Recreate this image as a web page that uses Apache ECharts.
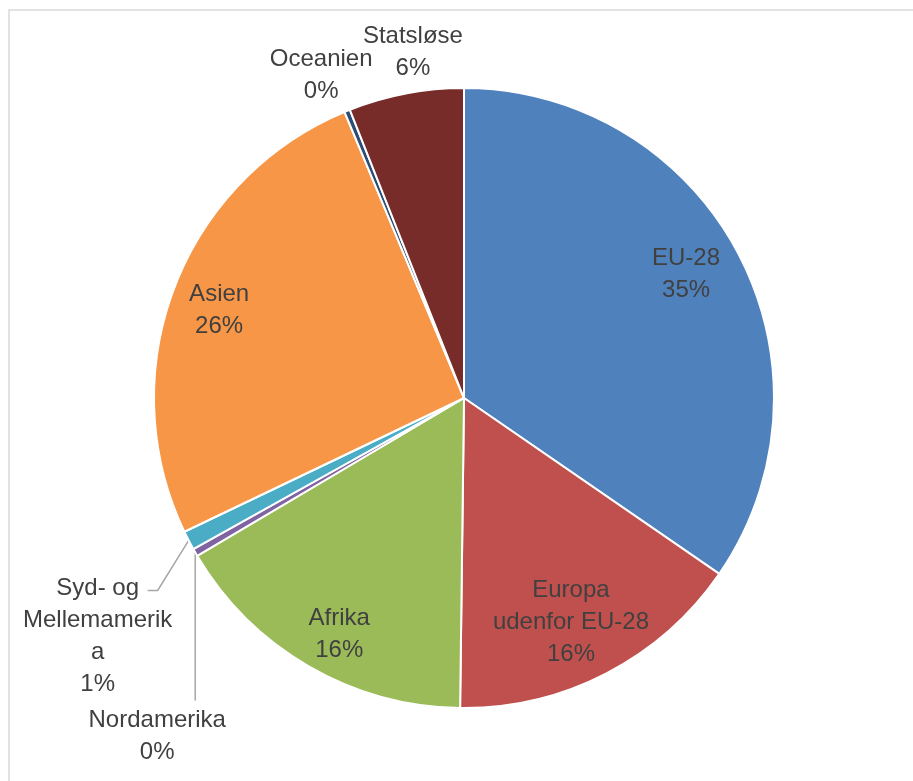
<!DOCTYPE html>
<html>
<head>
<meta charset="utf-8">
<script src="https://cdn.jsdelivr.net/npm/echarts@6/dist/echarts.min.js"></script>
<style>
html, body { margin: 0; padding: 0; background: #fff; }
#chart { width: 913px; height: 781px; }
</style>
</head>
<body>
<div id="chart"></div>
<script>
// data
const regions = ['EU-28', 'Europa udenfor EU-28', 'Afrika', 'Nordamerika', 'Syd- og Mellemamerika', 'Asien', 'Oceanien', 'Statsløse']
const labelTexts = ['EU-28', 'Europa\nudenfor EU-28', 'Afrika', 'Nordamerika', 'Syd- og\nMellemamerik\na', 'Asien', 'Oceanien', 'Statsløse']
const shares = [34.6, 15.6, 16.3, 0.4, 1.0, 25.8, 0.3, 6.0]
const insideRegions = ['EU-28', 'Europa udenfor EU-28', 'Afrika', 'Asien']

const colors = ['#4f81bd', '#c0504d', '#9bbb59', '#8064a2', '#4bacc6', '#f79646', '#2c4d75', '#772c2a']
const cx = 464, cy = 398, R = 310
const textStyle = { color: '#404040', fontSize: 24, lineHeight: 32, fontFamily: 'Liberation Sans' }

// 内部标签的微调
const insideNudge = {
  'EU-28': [-9, -2],
  'Europa udenfor EU-28': [-13, -7],
  'Afrika': [6, 10],
  'Asien': [-1, 5],
}
// 外部标签相对扇区边缘中点的偏移
const outsidePlacement = {
  'Nordamerika': { at: [-38, 184], line: [[0, 148]] },
  'Syd- og Mellemamerika': { at: [-91, 96], line: [[-31, 50], [-41, 50]] },
  'Oceanien': { at: [-26, -35] },
  'Statsløse': { at: [7, -41] },
}

const total = shares.reduce((a, b) => a + b, 0)
const edgePoint = i => {
  const before = shares.slice(0, i).reduce((a, b) => a + b, 0)
  const ang = ((before + shares[i] / 2) / total) * Math.PI * 2
  return [cx + R * Math.sin(ang), cy - R * Math.cos(ang)]
}
const formatLabel = p => labelTexts[p.dataIndex] + '\n' + p.percent + '%'

const chart = echarts.init(document.getElementById('chart'))
chart.setOption({
  animation: false,
  color: colors,
  graphic: [
    {
      type: 'polyline',
      shape: { points: [[9, 781], [9, 10], [913, 10]] },
      style: { stroke: '#d9d9d9', lineWidth: 1.5, fill: null },
      silent: true,
    },
  ],
  series: [
    {
      type: 'pie',
      center: [cx, cy],
      radius: R,
      startAngle: 90,
      clockwise: true,
      avoidLabelOverlap: false,
      percentPrecision: 0,
      itemStyle: { borderColor: '#fff', borderWidth: 2 },
      emphasis: { disabled: true },
      label: { position: 'outside', formatter: formatLabel, ...textStyle },
      labelLine: { show: false, lineStyle: { color: '#a6a6a6', width: 1.5 } },
      labelLayout: params => {
        const cfg = outsidePlacement[regions[params.dataIndex]]
        if (!cfg) return {}
        const p0 = edgePoint(params.dataIndex)
        const res = { x: p0[0] + cfg.at[0], y: p0[1] + cfg.at[1], align: 'center', verticalAlign: 'middle' }
        if (cfg.line) res.labelLinePoints = [p0, ...cfg.line.map(d => [p0[0] + d[0], p0[1] + d[1]])]
        return res
      },
      data: regions.map((name, i) => ({
        name,
        value: shares[i],
        label: { show: !insideRegions.includes(name) },
        labelLine: { show: !!(outsidePlacement[name] && outsidePlacement[name].line) },
      })),
    },
    {
      // 透明环，只用来放内部标签
      type: 'pie',
      center: [cx, cy],
      radius: [206, R],
      startAngle: 90,
      clockwise: true,
      silent: true,
      percentPrecision: 0,
      z: 3,
      itemStyle: { color: 'rgba(0,0,0,0)', borderWidth: 0 },
      emphasis: { disabled: true },
      label: { position: 'inside', formatter: formatLabel, ...textStyle },
      labelLine: { show: false },
      labelLayout: params => {
        const n = insideNudge[regions[params.dataIndex]]
        return n ? { dx: n[0], dy: n[1] } : {}
      },
      data: regions.map((name, i) => ({
        name,
        value: shares[i],
        label: { show: insideRegions.includes(name) },
      })),
    },
  ],
})
</script>
</body>
</html>
